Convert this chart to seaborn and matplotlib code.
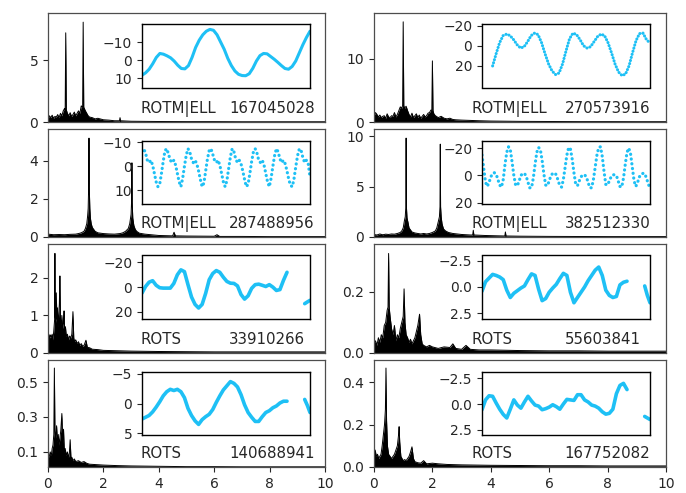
import numpy as np
import pandas as pd
import matplotlib
matplotlib.use("Agg")
import matplotlib.pyplot as plt
import seaborn as sns

sns.set_style("ticks")
plt.rcParams.update({"font.family": ["DejaVu Sans"], "font.size": 10,
                     "xtick.labelsize": 10, "ytick.labelsize": 10})

# ---------------- labels ----------------
classes = ["ROTM|ELL", "ROTM|ELL", "ROTM|ELL", "ROTM|ELL", "ROTS", "ROTS", "ROTS", "ROTS"]
ids = ["167045028", "270573916", "287488956", "382512330",
       "33910266", "55603841", "140688941", "167752082"]

# ---------------- periodograms (frequency, power) ----------------
pg1_f = [0, 0.05, 0.1, 0.15, 0.2, 0.25, 0.3, 0.35, 0.4, 0.45, 0.5, 0.55, 0.6, 0.62, 0.64, 0.66, 0.7, 0.75, 0.8, 0.85,
         0.9, 0.95, 1.0, 1.05, 1.1, 1.15, 1.2, 1.25, 1.27, 1.29, 1.35, 1.4, 1.45, 1.5, 1.6, 1.7, 1.8, 2.0, 2.2, 2.4,
         2.58, 2.6, 2.62, 2.8, 3.0, 3.5, 4, 5, 6, 7, 8, 9, 10]
pg1_p = [0.3, 0.5, 0.35, 0.55, 0.3, 0.45, 0.4, 0.6, 0.35, 0.7, 0.5, 0.9, 1.1, 1.0, 7.2, 1.0, 0.7, 0.5, 0.75, 0.45,
         0.6, 0.8, 0.5, 0.7, 0.9, 0.7, 1.3, 1.2, 8.06, 1.2, 0.9, 0.7, 0.5, 0.4, 0.35, 0.25, 0.3, 0.18, 0.15, 0.1,
         0.1, 0.35, 0.1, 0.08, 0.06, 0.05, 0.04, 0.03, 0.03, 0.02, 0.02, 0.02, 0.02]

pg2_f = [0, 0.05, 0.1, 0.15, 0.2, 0.25, 0.3, 0.35, 0.4, 0.45, 0.5, 0.55, 0.6, 0.65, 0.7, 0.75, 0.8, 0.85, 0.9, 0.95,
         0.98, 1.0, 1.02, 1.05, 1.1, 1.15, 1.2, 1.25, 1.3, 1.35, 1.4, 1.45, 1.5, 1.55, 1.6, 1.65, 1.7, 1.75, 1.8, 1.85,
         1.9, 1.95, 1.98, 2.0, 2.02, 2.05, 2.1, 2.2, 2.3, 2.4, 2.5, 2.6, 2.7, 2.8, 3.0, 3.3, 3.6, 4, 5, 6, 7, 8, 9, 10]
pg2_p = [1.0, 1.5, 1.2, 0.8, 1.1, 0.7, 0.9, 1.0, 0.6, 1.3, 0.8, 0.7, 1.0, 0.9, 1.5, 0.8, 1.2, 1.8, 2.4, 2.2,
         2.6, 15.9, 2.6, 2.2, 2.5, 1.8, 1.2, 0.8, 1.4, 0.7, 1.0, 1.3, 0.7, 1.1, 0.6, 0.9, 1.2, 0.8, 1.0, 1.4,
         1.5, 1.9, 1.8, 9.7, 1.8, 1.3, 1.0, 0.7, 0.9, 0.6, 0.5, 0.6, 0.4, 0.35, 0.3, 0.25, 0.2, 0.15, 0.1, 0.08,
         0.06, 0.06, 0.05, 0.05]

pg3_f = [0, 0.2, 0.4, 0.6, 0.8, 1.0, 1.1, 1.2, 1.3, 1.35, 1.4, 1.43, 1.45, 1.47, 1.48, 1.49, 1.51, 1.53, 1.56, 1.6,
         1.7, 1.8, 2.0, 2.2, 2.4, 2.6, 2.7, 2.8, 2.9, 2.95, 3.0, 3.02, 3.03, 3.04, 3.06, 3.1, 3.15, 3.2, 3.3, 3.5,
         4.0, 4.5, 4.55, 4.6, 5.0, 6.0, 6.1, 6.2, 7, 8, 9, 10]
pg3_p = [0.15, 0.12, 0.13, 0.12, 0.14, 0.15, 0.18, 0.22, 0.3, 0.45, 0.7, 1.1, 1.5, 2.8, 5.2, 2.6, 1.5, 1.0, 0.7, 0.5,
         0.3, 0.22, 0.18, 0.16, 0.15, 0.18, 0.22, 0.3, 0.45, 0.7, 1.2, 2.0, 3.9, 1.8, 1.0, 0.6, 0.4, 0.3, 0.2, 0.15,
         0.08, 0.06, 0.25, 0.06, 0.05, 0.04, 0.12, 0.03, 0.03, 0.02, 0.02, 0.02]

pg4_f = [0, 0.1, 0.2, 0.3, 0.4, 0.5, 0.6, 0.7, 0.8, 0.9, 0.95, 1.0, 1.04, 1.07, 1.09, 1.1, 1.11, 1.13, 1.16, 1.2,
         1.25, 1.3, 1.4, 1.5, 1.6, 1.7, 1.8, 1.9, 2.0, 2.1, 2.15, 2.2, 2.24, 2.26, 2.27, 2.28, 2.3, 2.33, 2.38, 2.45,
         2.55, 2.7, 3.0, 3.3, 3.38, 3.4, 3.42, 3.8, 4.2, 4.48, 4.5, 4.52, 5, 6, 7, 8, 9, 10]
pg4_p = [0.25, 0.2, 0.3, 0.22, 0.28, 0.25, 0.3, 0.28, 0.35, 0.45, 0.6, 0.9, 1.6, 2.0, 3.0, 9.8, 3.0, 1.9, 1.5, 0.9,
         0.7, 0.5, 0.4, 0.35, 0.3, 0.35, 0.3, 0.35, 0.45, 0.6, 0.9, 1.5, 2.0, 3.0, 9.2, 3.0, 2.0, 1.3, 0.8, 0.6,
         0.45, 0.35, 0.25, 0.2, 0.2, 0.67, 0.2, 0.15, 0.12, 0.1, 0.5, 0.1, 0.08, 0.06, 0.05, 0.04, 0.04, 0.04]

pg5_f = [0, 0.03, 0.06, 0.09, 0.12, 0.15, 0.18, 0.21, 0.24, 0.25, 0.26, 0.28, 0.3, 0.32, 0.34, 0.36, 0.38, 0.41, 0.43,
         0.45, 0.48, 0.5, 0.53, 0.56, 0.58, 0.6, 0.63, 0.66, 0.7, 0.74, 0.78, 0.82, 0.86, 0.9, 0.93, 0.96, 1.0, 1.05,
         1.1, 1.15, 1.2, 1.25, 1.3, 1.37, 1.42, 1.5, 1.6, 1.8, 2.0, 2.5, 3, 4, 5, 6, 7, 8, 9, 10]
pg5_p = [0.45, 0.5, 0.4, 0.48, 0.42, 0.5, 0.35, 0.6, 0.9, 2.65, 1.0, 0.8, 1.6, 0.9, 1.2, 0.7, 0.95, 1.3, 2.05,
         0.9, 0.75, 1.0, 0.65, 0.8, 1.12, 0.55, 0.7, 0.45, 0.5, 0.35, 0.45, 0.4, 0.5, 1.1, 0.4, 0.3, 0.35, 0.25,
         0.3, 0.2, 0.25, 0.18, 0.2, 0.34, 0.15, 0.14, 0.1, 0.09, 0.07, 0.06, 0.05, 0.04, 0.035, 0.03, 0.03, 0.03, 0.03, 0.03]

pg6_f = [0, 0.05, 0.1, 0.15, 0.2, 0.25, 0.3, 0.35, 0.4, 0.45, 0.48, 0.5, 0.52, 0.55, 0.6, 0.65, 0.7, 0.75, 0.8, 0.85,
         0.9, 0.95, 1.0, 1.03, 1.06, 1.1, 1.15, 1.2, 1.25, 1.3, 1.35, 1.4, 1.45, 1.5, 1.56, 1.6, 1.65, 1.7, 1.8, 1.9,
         2.0, 2.2, 2.4, 2.6, 2.7, 2.8, 3.0, 3.15, 3.3, 3.6, 4, 5, 6, 7, 8, 9, 10]
pg6_p = [0.03, 0.04, 0.025, 0.05, 0.035, 0.06, 0.05, 0.09, 0.1, 0.14, 0.15, 0.326, 0.15, 0.12, 0.08, 0.06, 0.09, 0.04,
         0.06, 0.05, 0.08, 0.1, 0.12, 0.21, 0.1, 0.06, 0.05, 0.035, 0.045, 0.03, 0.04, 0.05, 0.07, 0.09, 0.127, 0.06,
         0.03, 0.025, 0.02, 0.025, 0.02, 0.015, 0.02, 0.018, 0.03, 0.015, 0.012, 0.025, 0.012, 0.01, 0.01, 0.008,
         0.007, 0.007, 0.006, 0.006, 0.006]

pg7_f = [0, 0.04, 0.08, 0.12, 0.15, 0.18, 0.21, 0.23, 0.25, 0.28, 0.31, 0.34, 0.37, 0.4, 0.43, 0.46, 0.5, 0.53, 0.56,
         0.59, 0.62, 0.66, 0.7, 0.74, 0.77, 0.8, 0.83, 0.86, 0.9, 0.95, 1.0, 1.1, 1.2, 1.3, 1.4, 1.5, 1.7, 2.0, 2.5,
         3, 4, 5, 6, 7, 8, 9, 10]
pg7_p = [0.09, 0.07, 0.1, 0.08, 0.12, 0.14, 0.2, 0.58, 0.22, 0.18, 0.25, 0.16, 0.2, 0.14, 0.18, 0.22, 0.32, 0.15,
         0.23, 0.1, 0.12, 0.08, 0.1, 0.07, 0.09, 0.17, 0.06, 0.07, 0.05, 0.06, 0.045, 0.05, 0.04, 0.045, 0.035, 0.03,
         0.028, 0.025, 0.022, 0.02, 0.018, 0.016, 0.016, 0.015, 0.015, 0.015, 0.015]

pg8_f = [0, 0.04, 0.08, 0.12, 0.16, 0.2, 0.24, 0.28, 0.32, 0.36, 0.39, 0.41, 0.43, 0.46, 0.5, 0.55, 0.6, 0.65, 0.7,
         0.75, 0.8, 0.84, 0.86, 0.88, 0.92, 0.96, 1.0, 1.05, 1.1, 1.15, 1.2, 1.25, 1.3, 1.35, 1.4, 1.5, 1.6, 1.7,
         1.8, 2.0, 2.2, 2.5, 3, 4, 5, 6, 7, 8, 9, 10]
pg8_p = [0.07, 0.08, 0.05, 0.06, 0.04, 0.05, 0.06, 0.1, 0.15, 0.2, 0.27, 0.466, 0.22, 0.1, 0.06, 0.05, 0.04, 0.05,
         0.06, 0.08, 0.1, 0.15, 0.19, 0.12, 0.05, 0.04, 0.03, 0.035, 0.03, 0.04, 0.05, 0.07, 0.095, 0.04, 0.025,
         0.02, 0.018, 0.03, 0.015, 0.018, 0.015, 0.012, 0.01, 0.008, 0.007, 0.006, 0.006, 0.005, 0.005, 0.005]

pg_ylim = [(0, 8.8), (0, 17.3), (0, 5.68), (0, 10.7), (0, 2.9), (0, 0.357), (0.014, 0.626), (0, 0.504)]
pg_yticks = [[0, 5], [0, 10], [0, 2, 4], [0, 5, 10], [0, 1, 2], [0.0, 0.2], [0.1, 0.3, 0.5], [0.0, 0.2, 0.4]]

# ---------------- light curves (time, relative flux in magnitude sense) ----------------
lc1_v = [8.3, 7.0, 5.0, 2.0, -1.5, -3.7, -3.3, -2.4, -1.3, 0.5, 2.8, 4.6, 4.8, 3.0, -1.5, -7.0, -11.0, -14.0,
         -16.0, -17.0, -16.5, -14.0, -10.0, -6.0, -1.0, 3.0, 6.0, 7.8, 8.5, 8.6, 7.5, 4.5, 0.5, -2.5, -3.7, -3.5,
         -2.0, -0.5, 1.2, 3.0, 4.6, 5.0, 3.5, 0.5, -4.0, -8.5, -12.5, -16.0]
lc1_t = np.linspace(0, 9.5, len(lc1_v))

lc2_v = [20, 8, -3, -10, -11.5, -10, -6, -1, 2.3, 1, -4, -10, -12.5, -11, -3, 8, 18, 25, 28.5, 27, 18, 5, -7,
         -12.5, -11, -6, 0, 2.3, 1, -4, -9, -11.5, -10, -3, 7, 18, 26, 29.5, 28, 20, 7, -5, -12, -12.5, -6, -2.6]
lc2_t = np.linspace(0.6, 9.5, len(lc2_v))

lc3_v = [-6.5, -7.3, -5.5, -2.5, -1.5, -2.5, -0.5, 3, 6.5, 8.5,
         7.5, 3, -2, -6.5, -7.3, -5, -2.5, -1.5, -2.5, -0.5,
         3, 6.5, 8.5, 5, 0, -4.5, -7.3, -6, -3, -1.5,
         -2.5, -1, 2, 5.5, 8.5, 7, 2, -3, -6.5, -7.3,
         -5, -2.5, -1.5, -2.5, -0.5, 3, 6.5, 8.5, 6, 1,
         -4, -7.3, -6, -3, -1.5, -2.5, -1, 2, 5.5, 8.5,
         7.5, 3, -2, -6, -7.3, -5.5, -2.5, -1.5, -2.5, -0.5,
         3, 6.5, 8.5, 5, 0, -4.5, -7.3, -6, -3, -1.5,
         -2.5, -1, 2, 5.5, 8, 8.5, 5, 0, -4.5, -7.3,
         -6.5, -3.5, -1.5, -2.5, -1, 4.5]
lc3_t = np.linspace(0, 9.5, len(lc3_v))

lc4_v = [-15, -5, 5, 8, 5, 1, -1.5, -2, -1, 3,
         7, 8.5, 3, -8, -17, -21, -19, -10, 0, 7,
         7.5, 4, 0, -1.5, -1.5, 0.5, 5, 9, 9, 2,
         -8, -17, -20.5, -19, -11, -1, 7, 7.5, 4, 0,
         -1.5, -2, -0.5, 3.5, 7.5, 8.5, 3, -6, -15, -20.5,
         -19.5, -12, -2, 6.5, 7.5, 4, 1, -0.5, -0.5, 1,
         5, 9, 9, 3, -6, -15, -20.5, -21, -14, -3,
         6.5, 7, 4, 1, -0.5, -0.5, 0, 4, 8, 8.5,
         2, -8, -17, -20, -16, -6, 4, 8, 5, 1,
         -1, -1.5, -1.5, 2, 6, 9.5]
lc4_t = np.linspace(0, 9.5, len(lc4_v))

lc5_v = [4.8, -0.5, -4, -5.2, -1.5, 0.5, 0.8, 0.8, 0.8, -3, -10, -14, -12.5, -2, 8, 14, 16.9, 14, 5, -6, -11,
         -13.4, -12, -8, -4.6, -3.2, -3, -1, 6, 9.7, 7, 1, -2, -2.4, -1.5, -0.5, -2, 0, 2.7, 2, -5.5, -12,
         13.4, 12, 10.7]
lc5_t = np.r_[np.linspace(0, 8.2, 42), [9.2, 9.35, 9.5]]

lc6_v = [0.4, -0.5, -0.85, -1.2, -1.1, -0.95, -0.7, 0.3, 1.0, 0.6, 0.35, 0.1, -0.1, -0.7, -1.25, -1.1, 0.2, 1.3,
         1.1, 0.5, 0.1, -0.25, -0.8, -1.3, -1.1, 0.5, 1.5, 1.0, 0.5, 0, -0.6, -1.1, -1.6, -1.9, -1.1, 0.3, 0.8,
         1.0, 0.9, -0.2, -0.45, -0.55,
         -0.1, 0.8, 1.5]
lc6_t = np.r_[np.linspace(0, 8.2, 42), [9.2, 9.35, 9.5]]

lc7_v = [2.6, 2.3, 2.0, 1.4, 0.6, -0.3, -1.3, -2.0, -2.4, -2.2, -2.4, -2.0, -1.0, 0.8, 2.0, 2.9, 3.5, 2.7, 2.2,
         1.8, 1.0, -0.2, -1.3, -2.3, -3.0, -3.7, -3.4, -2.8, -1.5, 0.2, 1.5, 2.3, 3.0, 3.0, 2.2, 1.5, 1.2, 0.7,
         0.4, -0.1, -0.4, -0.4,
         -0.7, 0.3, 1.5]
lc7_t = np.r_[np.linspace(0, 8.2, 42), [9.2, 9.35, 9.5]]

lc8_v = [0.55, -0.4, -0.8, -0.75, -0.1, 0.5, 1.0, 1.35, 0.5, -0.4, 0.1, 0.4, -0.2, -0.75, -0.3, 0.1, 0.2, 0.55,
         0.45, 0.3, 0.07, 0.25, 0.5, 0.0, -0.45, -0.4, -0.35, -0.9, -0.9, -0.4, -0.2, 0.1, 0.2, 0.4, 0.75, 0.98,
         0.9, 0.5, -1.0, -1.8, -2.0, -1.4,
         1.2, 1.35, 1.5]
lc8_t = np.r_[np.linspace(0, 8.2, 42), [9.2, 9.35, 9.5]]

lc_ylim = [(15.1, -19.7), (41.3, -21.0), (15.5, -10.7), (20.5, -25.6),
           (25.4, -25.6), (3.0, -3.0), (5.2, -5.4), (2.95, -3.15)]
lc_yticks = [[-10, 0, 10], [-20, 0, 20], [-10, 0, 10], [-20, 0, 20],
             [-20, 0, 20], [-2.5, 0, 2.5], [-5, 0, 5], [-2.5, 0, 2.5]]

pg_f = [pg1_f, pg2_f, pg3_f, pg4_f, pg5_f, pg6_f, pg7_f, pg8_f]
pg_p = [pg1_p, pg2_p, pg3_p, pg4_p, pg5_p, pg6_p, pg7_p, pg8_p]
lc_t = [lc1_t, lc2_t, lc3_t, lc4_t, lc5_t, lc6_t, lc7_t, lc8_t]
lc_v = [lc1_v, lc2_v, lc3_v, lc4_v, lc5_v, lc6_v, lc7_v, lc8_v]

# ---------------- layout (pixels) ----------------
W, H = 686, 493
fig = plt.figure(figsize=(W / 100, H / 100), dpi=100)
col_x = [(48, 325), (374, 666)]
row_y = [(13, 122), (129, 237), (244, 353), (360, 467)]
ins_x = [(142, 310), (482, 650)]


def frac(x0, x1, y0, y1):
    return [x0 / W, 1 - y1 / H, (x1 - x0) / W, (y1 - y0) / H]


blue = "#1ec0f5"
for i in range(8):
    r, c = divmod(i, 2)
    ax = fig.add_axes(frac(*col_x[c], *row_y[r]))
    df = pd.DataFrame({"f": pg_f[i], "p": pg_p[i]})
    ax.fill_between(df["f"], pg_ylim[i][0], df["p"], color="black", lw=0)
    sns.lineplot(data=df, x="f", y="p", ax=ax, color="black", lw=0.7, estimator=None, sort=False)
    ax.set_xlim(0, 10)
    ax.set_ylim(*pg_ylim[i])
    ax.set_yticks(pg_yticks[i])
    ax.set_xlabel("")
    ax.set_ylabel("")
    for s in ax.spines.values():
        s.set_color("0.3")
        s.set_linewidth(0.9)
    if r < 3:
        ax.tick_params(axis="x", bottom=False, labelbottom=False)
    else:
        ax.set_xticks([0, 2, 4, 6, 8, 10])
    ax.text(0.333, 0.085, classes[i], transform=ax.transAxes, fontsize=10.8, va="baseline", ha="left")
    ax.text(0.653, 0.085, ids[i], transform=ax.transAxes, fontsize=10.8, va="baseline", ha="left")

    top = row_y[r][0] + 11.5
    iax = fig.add_axes(frac(*ins_x[c], top, top + 63))
    t = np.asarray(lc_t[i])
    v = np.asarray(lc_v[i], dtype=float)
    seg = ((t > 8.7) & (r >= 2)).astype(int)
    ldf = pd.DataFrame({"t": t, "v": v, "seg": seg})
    if r == 1:
        sns.lineplot(data=ldf, x="t", y="v", ax=iax, color=blue, lw=2.3, estimator=None, sort=False,
                     linestyle=(0, (0.05, 1.45)), dash_capstyle="round")
    elif r == 0:
        ls = "-" if c == 0 else (0, (0.05, 1.0))
        sns.lineplot(data=ldf, x="t", y="v", ax=iax, color=blue, lw=2.2, estimator=None, sort=False,
                     linestyle=ls, dash_capstyle="round")
    else:
        sns.lineplot(data=ldf, x="t", y="v", units="seg", estimator=None, ax=iax,
                     color=blue, lw=2.6, sort=False)
    iax.set_xlim(0, 9.5)
    iax.set_ylim(*lc_ylim[i])
    iax.set_yticks(lc_yticks[i])
    iax.set_xticks([])
    iax.set_xlabel("")
    iax.set_ylabel("")
    for s in iax.spines.values():
        s.set_color("black")
        s.set_linewidth(1.0)

fig.savefig("out.png", dpi=100)
